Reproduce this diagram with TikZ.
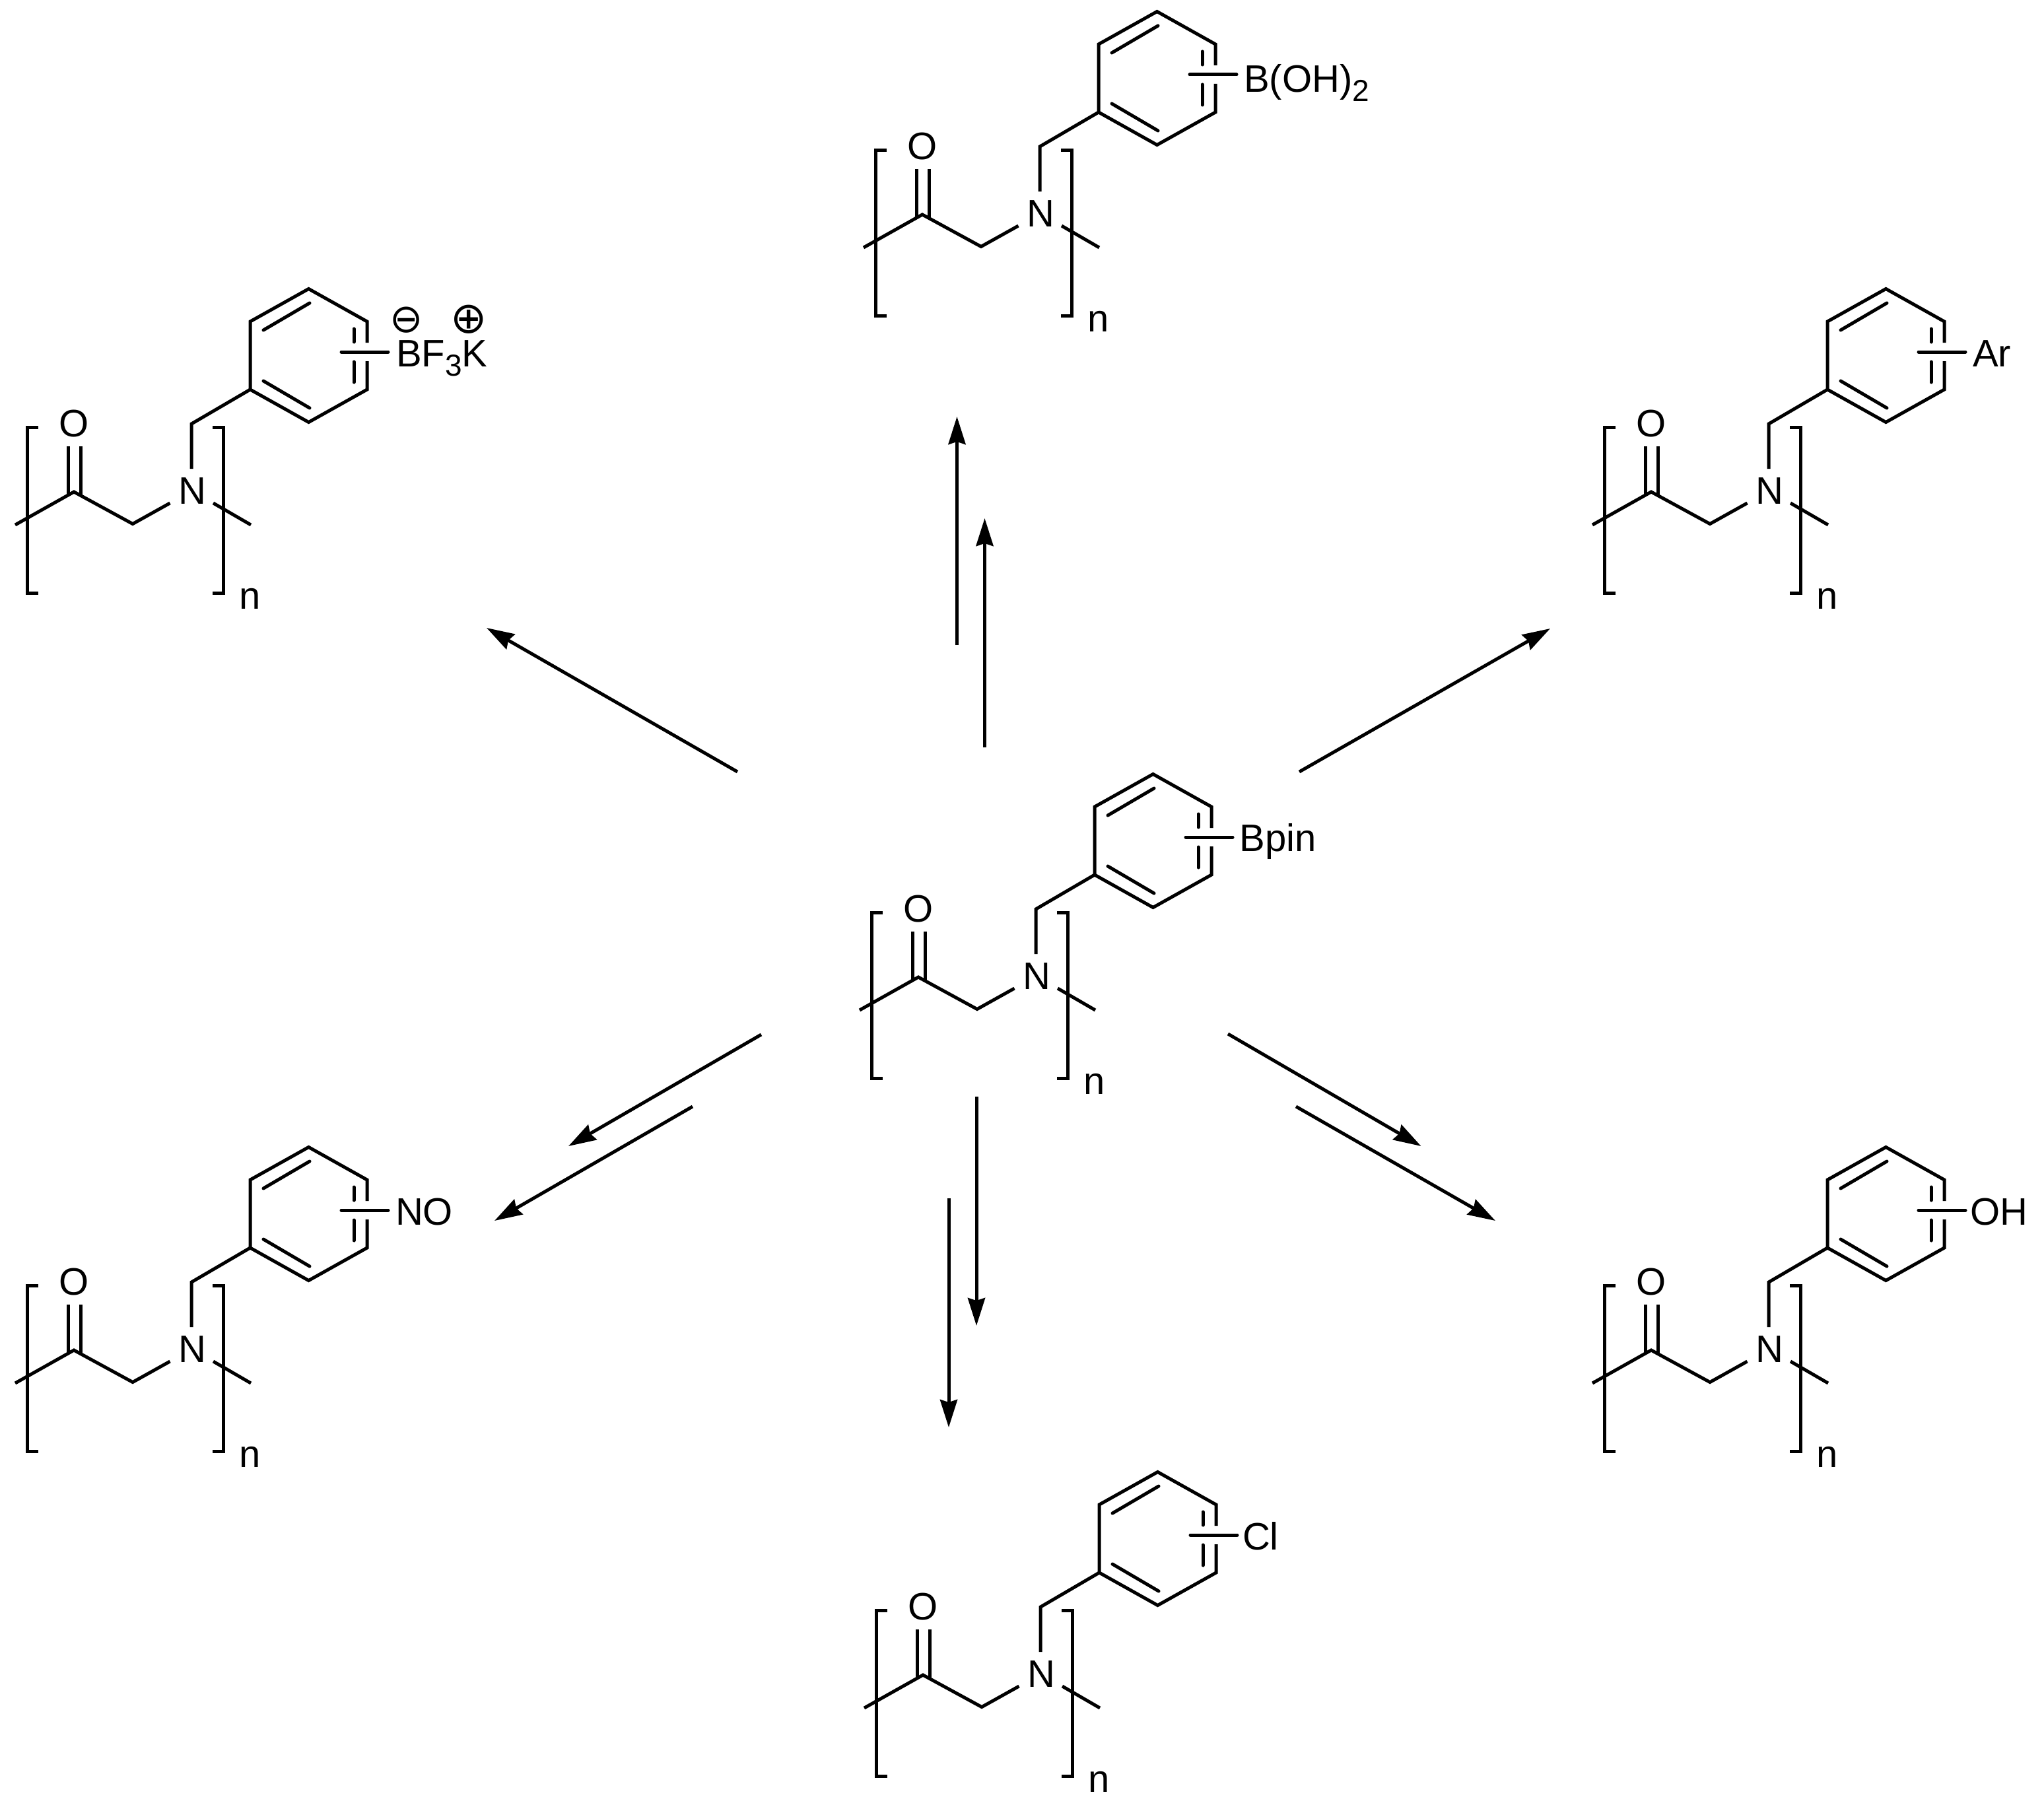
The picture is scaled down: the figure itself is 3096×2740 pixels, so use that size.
\documentclass[tikz,border=0pt]{standalone}
\usepackage{fontspec}
\setmainfont{Liberation Sans}
\newfontfamily\symfont{DejaVu Sans}
\usetikzlibrary{arrows.meta}
\tikzset{
  bond/.style={line width=5pt,line join=miter,miter limit=10,line cap=butt},
  inner/.style={line width=5pt,line cap=round},
  bracket/.style={line width=5pt,line join=miter,line cap=butt},
  rxn/.style={line width=5pt,line cap=butt,-{Stealth[length=42pt,width=26pt,inset=4pt]}},
  atom/.style={inner sep=0pt,outer sep=0pt,font=\fontsize{58}{62}\selectfont},
  charge/.style={inner sep=0pt,outer sep=0pt,font=\symfont\fontsize{60}{64}\selectfont}
}
\newcommand{\chemsub}[1]{\raisebox{-14pt}{\fontsize{46}{50}\selectfont #1}}
% one repeat unit, drawn at its place in the top molecule and shifted
\newcommand{\polymer}[3]{%
\begin{scope}[shift={(#2,#3)}]
  \coordinate (#1ra) at (1841,99);
  \coordinate (#1rb) at (1841,67);
  \coordinate (#1rc) at (1752.5,17.5);
  \coordinate (#1rd) at (1664,67);
  \coordinate (#1re) at (1664,170);
  \coordinate (#1rf) at (1752.5,219.5);
  \coordinate (#1rg) at (1841,170);
  \coordinate (#1rh) at (1841,127);
  \coordinate (#1ch) at (1575,222);
  \coordinate (#1nt) at (1575,290);
  \coordinate (#1nl) at (1542.5,342);
  \coordinate (#1nr) at (1608,342);
  \coordinate (#1me) at (1486,373.5);
  \coordinate (#1co) at (1397,325);
  \coordinate (#1le) at (1308,375);
  \coordinate (#1re2) at (1665,375);
  \coordinate (#1oa) at (1388,256);
  \coordinate (#1ob) at (1388,330);
  \coordinate (#1oc) at (1407.5,256);
  \coordinate (#1od) at (1407.5,331);
  \coordinate (#1ia) at (1684,80);
  \coordinate (#1ib) at (1754,39);
  \coordinate (#1ic) at (1684,157);
  \coordinate (#1id) at (1754,198);
  \coordinate (#1ie) at (1821,78);
  \coordinate (#1if) at (1821,98);
  \coordinate (#1ig) at (1821,128);
  \coordinate (#1ih) at (1821,159);
  \coordinate (#1sa) at (1802,113);
  \coordinate (#1sb) at (1873,113);
  \coordinate (#1bla) at (1343,227);
  \coordinate (#1blb) at (1326,227);
  \coordinate (#1blc) at (1326,478);
  \coordinate (#1bld) at (1343,478);
  \coordinate (#1bra) at (1607,227);
  \coordinate (#1brb) at (1623,227);
  \coordinate (#1brc) at (1623,478);
  \coordinate (#1brd) at (1607,478);
  \node[atom,anchor=base] (#1N) at (1576,343) {N};
  \node[atom,anchor=base] (#1O) at (1397,241) {O};
  \node[atom,anchor=base] (#1n) at (1664,502) {n};
  \draw[bond] (#1ra) -- (#1rb) -- (#1rc) -- (#1rd) -- (#1re) -- (#1rf) -- (#1rg) -- (#1rh);
  \draw[bond] (#1re) -- (#1ch) -- (#1nt);
  \draw[bond] (#1nl) -- (#1me) -- (#1co) -- (#1le);
  \draw[bond] (#1nr) -- (#1re2);
  \draw[bond] (#1oa) -- (#1ob);
  \draw[bond] (#1oc) -- (#1od);
  \draw[inner] (#1ia) -- (#1ib);
  \draw[inner] (#1ic) -- (#1id);
  \draw[inner] (#1ie) -- (#1if);
  \draw[inner] (#1ig) -- (#1ih);
  \draw[inner] (#1sa) -- (#1sb);
  \draw[bracket] (#1bla) -- (#1blb) -- (#1blc) -- (#1bld);
  \draw[bracket] (#1bra) -- (#1brb) -- (#1brc) -- (#1brd);
\end{scope}}
\begin{document}
\begin{tikzpicture}[x=1pt,y=-1pt]
  \fill[white] (0,0) rectangle (3096,2740);
  \useasboundingbox (0,0) rectangle (3096,2740);

  \polymer{top}{0}{0}
  \polymer{mid}{-6}{1155}
  \polymer{bf}{-1285}{420}
  \polymer{ar}{1104}{420}
  \polymer{no}{-1285}{1720}
  \polymer{oh}{1104}{1720}
  \polymer{cl}{1}{2212}

  \node[atom,anchor=base west] (topl) at (1884,140) {B(OH)\chemsub{2}};
  \node[atom,anchor=base west] (midl) at (1877.5,1289) {Bpin};
  \node[atom,anchor=base west] (bfl) at (600,555) {BF\chemsub{3}K};
  \node[charge] (bfminus) at (616,485) {⊖};
  \node[charge,font=\symfont\fontsize{66}{70}\selectfont] (bfplus) at (710,484) {⊕};
  \node[atom,anchor=base west] (arl) at (2988,555) {Ar};
  \node[atom,anchor=base west] (nol) at (599,1855) {NO};
  \node[atom,anchor=base west] (ohl) at (2984,1855) {OH};
  \node[atom,anchor=base west] (cll) at (1882,2347) {Cl};

  % reaction arrows
  \coordinate (a1s) at (1117,1169);  \coordinate (a1e) at (737,951);
  \coordinate (a2s) at (1449.5,977); \coordinate (a2e) at (1449.5,631);
  \coordinate (a3s) at (1491.5,1132);\coordinate (a3e) at (1491.5,785);
  \coordinate (a4s) at (1968,1169);  \coordinate (a4e) at (2348,952);
  \coordinate (a5s) at (1153,1567);  \coordinate (a5e) at (861,1736);
  \coordinate (a6s) at (1049,1676);  \coordinate (a6e) at (749,1849);
  \coordinate (a7s) at (1479,1661);  \coordinate (a7e) at (1479,2008);
  \coordinate (a8s) at (1437,1815);  \coordinate (a8e) at (1437,2162);
  \coordinate (a9s) at (1860,1566);  \coordinate (a9e) at (2152.5,1736);
  \coordinate (a10s) at (1963,1676); \coordinate (a10e) at (2265,1849);
  \foreach \k in {1,...,10} {\draw[rxn] (a\k s) -- (a\k e);}
\end{tikzpicture}
\end{document}
